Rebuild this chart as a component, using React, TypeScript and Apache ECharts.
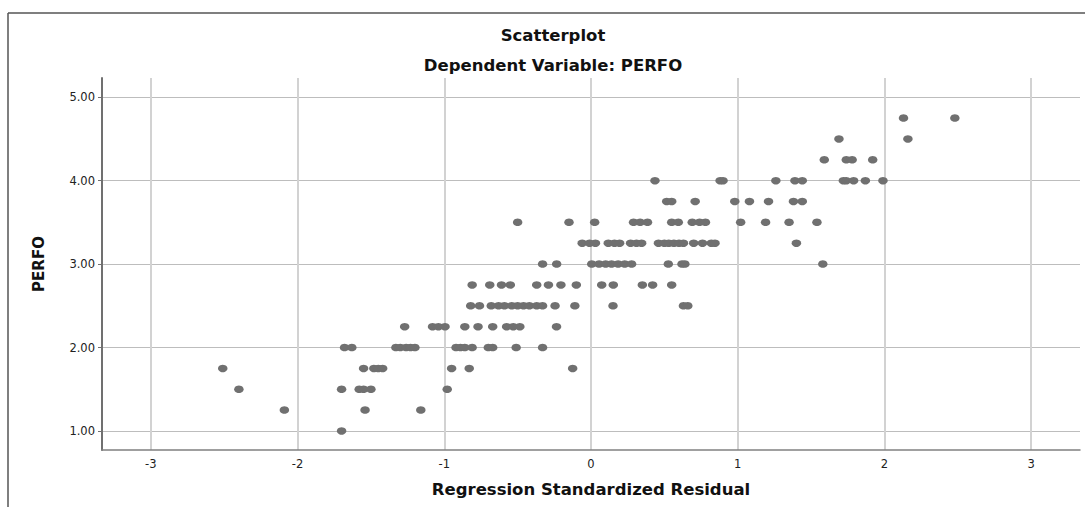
import React, { useEffect, useRef } from "react";
import * as echarts from "echarts";

// Standardized residuals observed at each PERFO value
const res100 = [-1.70];
const res125 = [-2.09, -1.54, -1.16];
const res150 = [-2.40, -1.70, -1.58, -1.55, -1.50, -0.98];
const res175 = [-2.51, -1.55, -1.48, -1.45, -1.42, -0.95, -0.83, -0.125];
const res200 = [-1.68, -1.63, -1.33, -1.30, -1.26, -1.23, -1.20, -0.92, -0.89, -0.86, -0.81, -0.70, -0.67, -0.51, -0.33];
const res225 = [-1.27, -1.08, -1.04, -0.995, -0.86, -0.77, -0.67, -0.575, -0.53, -0.485, -0.235];
const res250 = [-0.82, -0.76, -0.68, -0.63, -0.59, -0.54, -0.50, -0.46, -0.42, -0.37, -0.33, -0.245, -0.11, 0.15, 0.63, 0.66];
const res275 = [-0.81, -0.69, -0.61, -0.55, -0.37, -0.29, -0.205, -0.10, 0.073, 0.152, 0.35, 0.42, 0.55];
const res300 = [-0.33, -0.234, 0.005, 0.055, 0.10, 0.14, 0.185, 0.23, 0.277, 0.527, 0.62, 0.64, 1.58];
const res325 = [-0.06, -0.01, 0.03, 0.118, 0.16, 0.195, 0.27, 0.31, 0.345, 0.46, 0.50, 0.53, 0.565, 0.60, 0.63, 0.70, 0.76, 0.82, 0.845, 1.40];
const res350 = [-0.50, -0.15, 0.025, 0.29, 0.335, 0.385, 0.55, 0.595, 0.69, 0.74, 0.78, 1.02, 1.19, 1.35, 1.54];
const res375 = [0.516, 0.55, 0.71, 0.98, 1.08, 1.21, 1.38, 1.44];
const res400 = [0.436, 0.88, 0.90, 1.26, 1.39, 1.44, 1.72, 1.74, 1.79, 1.87, 1.99];
const res425 = [1.59, 1.74, 1.78, 1.92];
const res450 = [1.69, 2.16];
const res475 = [2.13, 2.48];

const perfoLevels = [1.0, 1.25, 1.5, 1.75, 2.0, 2.25, 2.5, 2.75, 3.0, 3.25, 3.5, 3.75, 4.0, 4.25, 4.5, 4.75];
const residualGroups = [res100, res125, res150, res175, res200, res225, res250, res275, res300, res325, res350, res375, res400, res425, res450, res475];

const xTicks = [-3, -2, -1, 0, 1, 2, 3];
const yTicks = [1, 2, 3, 4, 5];

const titleText = "Scatterplot";
const subtitleText = "Dependent Variable: PERFO";
const xName = "Regression Standardized Residual";
const yName = "PERFO";

const FONT = "'DejaVu Sans', sans-serif";

export default function App() {
  const ref = useRef<HTMLDivElement>(null);

  useEffect(() => {
    if (!ref.current) return;
    const chart = echarts.init(ref.current, undefined, { renderer: "svg" });
    const points: number[][] = [];
    residualGroups.forEach((group, i) => {
      group.forEach((r) => points.push([r, perfoLevels[i]]));
    });

    chart.setOption({
      animation: false,
      backgroundColor: "#ffffff",
      textStyle: { fontFamily: FONT },
      title: [
        {
          text: titleText,
          left: 548,
          top: 22,
          textAlign: "center",
          textStyle: { fontFamily: FONT, fontWeight: "bold", fontSize: 16.5, color: "#111" },
        },
        {
          text: subtitleText,
          left: 548,
          top: 52,
          textAlign: "center",
          textStyle: { fontFamily: FONT, fontWeight: "bold", fontSize: 16.5, color: "#111" },
        },
      ],
      grid: { left: 102, right: 5, top: 78, bottom: 57 },
      xAxis: {
        type: "value",
        min: -3.333,
        max: 3.333,
        name: xName,
        nameLocation: "middle",
        nameGap: 31,
        nameTextStyle: { fontFamily: FONT, fontWeight: "bold", fontSize: 16.5, color: "#111" },
        axisLine: { show: true, onZero: false, lineStyle: { color: "#808080", width: 1.5 } },
        axisTick: { show: false, customValues: xTicks },
        axisLabel: { customValues: xTicks, margin: 8, fontFamily: FONT, fontSize: 11.5, color: "#222" },
        splitLine: { show: true, lineStyle: { color: "#d2d2d2", width: 2 } },
      },
      yAxis: {
        type: "value",
        min: 0.772,
        max: 5.23,
        name: yName,
        nameLocation: "middle",
        nameGap: 56,
        nameRotate: 90,
        nameTextStyle: { fontFamily: FONT, fontWeight: "bold", fontSize: 15, color: "#111" },
        axisLine: { show: true, onZero: false, lineStyle: { color: "#707070", width: 2 } },
        axisTick: { show: true, length: 4, customValues: yTicks, lineStyle: { color: "#707070" } },
        axisLabel: {
          customValues: yTicks,
          margin: 7,
          fontFamily: FONT,
          fontSize: 11.5,
          color: "#222",
          formatter: (v: number) => v.toFixed(2),
        },
        splitLine: { show: true, lineStyle: { color: "#bdbdbd", width: 1 } },
      },
      series: [
        {
          type: "scatter",
          data: points,
          symbol: "circle",
          symbolSize: [9.5, 7.5],
          itemStyle: { color: "#707070", opacity: 1 },
          z: 5,
        },
      ],
      graphic: [
        {
          type: "line",
          shape: { x1: 8, y1: 13, x2: 1085, y2: 13 },
          style: { stroke: "#555", lineWidth: 1.5 },
          silent: true,
        },
        {
          type: "line",
          shape: { x1: 8, y1: 13, x2: 8, y2: 507 },
          style: { stroke: "#555", lineWidth: 1.5 },
          silent: true,
        },
      ],
    });

    return () => chart.dispose();
  }, []);

  return (
    <div
      ref={ref}
      style={{ position: "absolute", left: 0, top: 0, width: 1085, height: 507 }}
    />
  );
}
